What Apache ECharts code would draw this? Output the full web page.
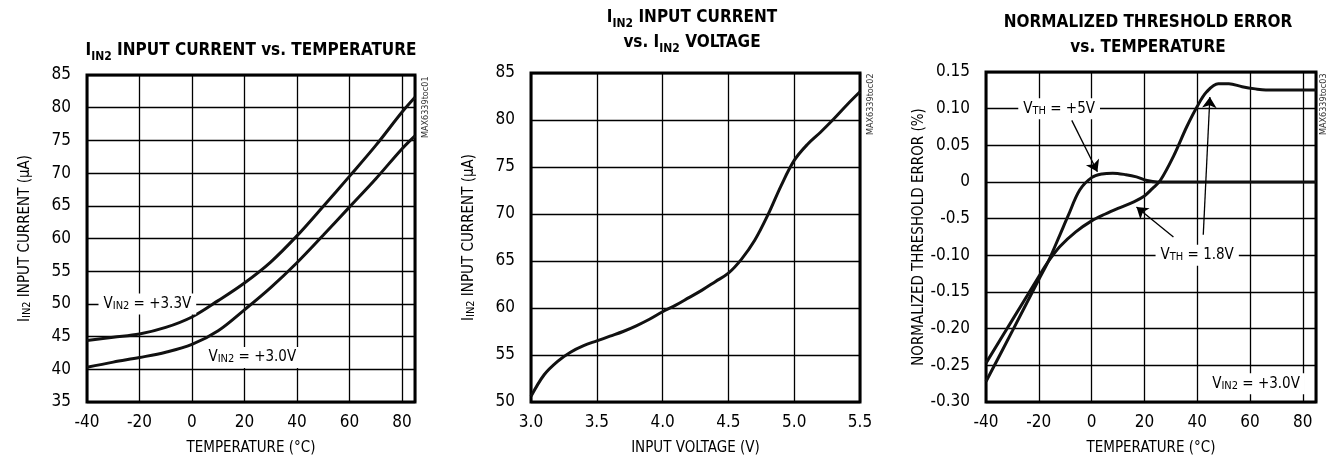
<!DOCTYPE html>
<html>
<head>
<meta charset="utf-8">
<script src="https://cdn.jsdelivr.net/npm/echarts@6/dist/echarts.min.js"></script>
<style>
html,body{margin:0;padding:0;background:#fff}
#main{width:1339px;height:461px}
</style>
</head>
<body>
<div id="main"></div>
<script>
var FONT="'Liberation Sans Narrow','DejaVu Sans Condensed',Roboto,sans-serif";

// chart 1 : IIN2 input current vs temperature
var tempTicks=['-40','-20','0','20','40','60','80'];
var currTicks1=['35','40','45','50','55','60','65','70','75','80','85'];
var cur33=[[-40,44.4],[-30,44.9],[-20,45.4],[-10,46.4],[0,48.0],[10,50.5],[20,53.2],[30,56.4],[40,60.4],[50,64.9],[60,69.5],[70,74.2],[80,79.3],[85,81.6]];
var cur30=[[-40,40.3],[-30,41.1],[-20,41.8],[-10,42.6],[0,43.8],[10,45.9],[20,49.1],[30,52.5],[40,56.3],[50,60.5],[60,64.8],[70,69.1],[80,73.7],[85,75.7]];

// chart 2 : IIN2 input current vs IIN2 voltage
var voltTicks=['3.0','3.5','4.0','4.5','5.0','5.5'];
var currTicks2=['50','55','60','65','70','75','80','85'];
var curVolt=[[3.0,50.6],[3.1,52.9],[3.2,54.3],[3.3,55.3],[3.4,56.0],[3.5,56.5],[3.6,57.0],[3.7,57.5],[3.8,58.1],[3.9,58.8],[4.0,59.6],[4.1,60.3],[4.2,61.1],[4.3,61.9],[4.4,62.8],[4.5,63.7],[4.6,65.2],[4.7,67.2],[4.8,69.9],[4.9,73.0],[5.0,75.7],[5.1,77.4],[5.2,78.7],[5.3,80.1],[5.4,81.6],[5.5,83.0]];

// chart 3 : normalized threshold error vs temperature
var errTicks=['-0.30','-0.25','-0.20','-0.15','-0.10','-0.5','0','0.05','0.10','0.15'];
var err5v=[[-40,-0.272],[-30,-0.203],[-20,-0.133],[-16.5,-0.109],[-12,-0.072],[-9,-0.047],[-4.5,-0.011],[0,0.006],[4,0.011],[8,0.012],[13,0.010],[17,0.007],[21,0.002],[25,0],[30,0],[85,0]];
var err18v=[[-40,-0.247],[-30,-0.188],[-20,-0.129],[-16.5,-0.109],[-12,-0.088],[-6,-0.068],[0,-0.053],[5,-0.044],[10,-0.036],[16,-0.027],[20,-0.019],[23,-0.009],[26,0.002],[31,0.035],[36,0.075],[40,0.103],[43.6,0.123],[48,0.134],[52,0.134],[57,0.130],[62,0.127],[66,0.1255],[70,0.1255],[85,0.1255]];

var chart=echarts.init(document.getElementById('main'));

function tickFmt(list,min,step){
    return function(v){
        var i=Math.round((v-min)/step);
        if(Math.abs(min+i*step-v)>step*0.01) return '';
        return list[i]===undefined?'':list[i];
    };
}

var labelStyle={fontFamily:FONT,fontSize:17,color:'#000'};
var splitStyle={lineStyle:{color:'#000',width:1.3}};
var nameStyle={fontFamily:FONT,fontSize:15,color:'#000'};
var subRich={
    t:{fontFamily:FONT,fontSize:15,color:'#000'},
    s:{fontFamily:FONT,fontSize:11,color:'#000',verticalAlign:'bottom'}
};

function xAx(g,min,max,step,ticks,name){
    return {gridIndex:g,type:'value',min:min,max:max,interval:step,
        axisLine:{show:false},axisTick:{show:false},splitLine:splitStyle,
        axisLabel:Object.assign({margin:12,formatter:tickFmt(ticks,min,step)},labelStyle),
        name:name,nameLocation:'middle',nameGap:39,nameTextStyle:nameStyle};
}
function yAx(g,min,max,step,ticks,name){
    return {gridIndex:g,type:'value',min:min,max:max,interval:step,
        axisLine:{show:false},axisTick:{show:false},splitLine:splitStyle,
        axisLabel:Object.assign({margin:16,formatter:tickFmt(ticks,min,step)},labelStyle),
        name:name,nameLocation:'middle',nameGap:54,nameRotate:90,
        nameTextStyle:Object.assign({rich:subRich},nameStyle)};
}
function line(xi,data){
    return {type:'line',xAxisIndex:xi,yAxisIndex:xi,data:data,smooth:0.35,
        showSymbol:false,symbol:'none',silent:true,lineStyle:{color:'#111',width:3}};
}

var titleRich={
    b:{fontFamily:FONT,fontWeight:'bold',fontSize:17,color:'#000',lineHeight:25},
    s:{fontFamily:FONT,fontWeight:'bold',fontSize:12,color:'#000',lineHeight:25,verticalAlign:'bottom'}
};

var s5=line(2,err5v);
s5.markLine={silent:true,symbol:['none','arrow'],symbolSize:11,label:{show:false},
    lineStyle:{color:'#000',width:1.3,type:'solid'},animation:false,
    data:[
        [{coord:[-7.5,0.084]},{coord:[2.2,0.014]}],
        [{coord:[31,-0.075]},{coord:[17,-0.034]}],
        [{coord:[42.3,-0.072]},{coord:[44.8,0.116]}]
    ]};

chart.setOption({
    animation:false,
    title:[
        {text:'{b|I}{s|IN2}{b| INPUT CURRENT vs. TEMPERATURE}',left:251,top:38,textAlign:'center',padding:0,textStyle:{rich:titleRich}},
        {text:'{b|I}{s|IN2}{b| INPUT CURRENT}\n{b|vs. I}{s|IN2}{b| VOLTAGE}',left:692,top:5,textAlign:'center',padding:0,textStyle:{rich:titleRich}},
        {text:'{b|NORMALIZED THRESHOLD ERROR}\n{b|vs. TEMPERATURE}',left:1148,top:10,textAlign:'center',padding:0,textStyle:{rich:titleRich}}
    ],
    grid:[
        {left:87,top:75,width:328,height:328,show:true,borderColor:'#000',borderWidth:3},
        {left:531,top:73,width:329,height:329,show:true,borderColor:'#000',borderWidth:3},
        {left:986,top:72,width:330,height:330,show:true,borderColor:'#000',borderWidth:3}
    ],
    xAxis:[
        xAx(0,-40,85,20,tempTicks,'TEMPERATURE (°C)'),
        xAx(1,3,5.5,0.5,voltTicks,'INPUT VOLTAGE (V)'),
        xAx(2,-40,85,20,tempTicks,'TEMPERATURE (°C)')
    ],
    yAxis:[
        yAx(0,35,85,5,currTicks1,'{t|I}{s|IN2}{t| INPUT CURRENT (μA)}'),
        yAx(1,50,85,5,currTicks2,'{t|I}{s|IN2}{t| INPUT CURRENT (μA)}'),
        yAx(2,-0.30,0.15,0.05,errTicks,'{t|NORMALIZED THRESHOLD ERROR (%)}')
    ],
    series:[
        line(0,cur33),
        line(0,cur30),
        line(1,curVolt),
        s5,
        line(2,err18v)
    ]
});

// text annotations placed in data space
var notes=[
    {g:0,at:[-17,50],text:'{t|V}{s|IN2}{t| = +3.3V}'},
    {g:0,at:[23,41.8],text:'{t|V}{s|IN2}{t| = +3.0V}'},
    {g:2,at:[-12.3,0.10],text:'{t|V}{s|TH}{t| = +5V}'},
    {g:2,at:[40,-0.10],text:'{t|V}{s|TH}{t| = 1.8V}'},
    {g:2,at:[62.3,-0.275],text:'{t|V}{s|IN2}{t| = +3.0V}'}
];
var graphics=[];
notes.forEach(function(n){
    var p=chart.convertToPixel({gridIndex:n.g},n.at);
    graphics.push({type:'text',x:p[0],y:p[1],z:100,silent:true,
        style:{text:n.text,align:'center',verticalAlign:'middle',backgroundColor:'#fff',padding:[3,5],
            rich:{t:{fontFamily:FONT,fontSize:15,color:'#000'},s:{fontFamily:FONT,fontSize:11,color:'#000',verticalAlign:'bottom'}}}});
});
// part number tags beside each plot
[['MAX6339toc01',426,138],['MAX6339toc02',871,135],['MAX6339toc03',1324,135]].forEach(function(t){
    graphics.push({type:'text',x:t[1],y:t[2],rotation:Math.PI/2,silent:true,
        style:{text:t[0],fontFamily:FONT,fontSize:9,fill:'#333',align:'left',verticalAlign:'middle'}});
});
chart.setOption({graphic:graphics});
</script>
</body>
</html>
